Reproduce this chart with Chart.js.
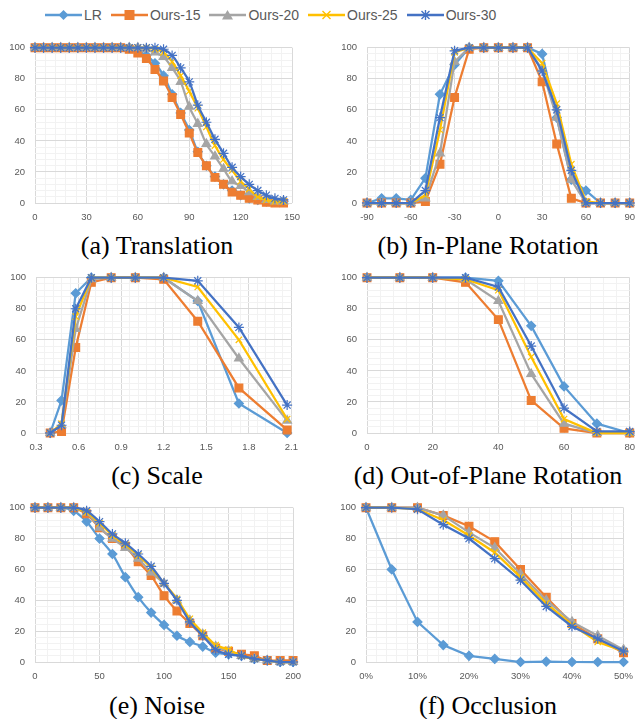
<!DOCTYPE html>
<html>
<head>
<meta charset="utf-8">
<script src="https://cdn.jsdelivr.net/npm/chart.js@4.4.1/dist/chart.umd.min.js"></script>
<style>
  html, body { margin: 0; padding: 0; background: #fff; }
  body { width: 636px; height: 719px; position: relative; overflow: hidden; }
  canvas { position: absolute; }
  .cap { position: absolute; font-family: "Liberation Serif", serif; font-size: 26px; line-height: 26px; color: #000; text-align: center; white-space: nowrap; }
  #legend { position: absolute; left: 45px; top: 5px; height: 20px; display: flex; align-items: center; font-family: "Liberation Sans", sans-serif; font-size: 14px; color: #595959; }
  #legend .item { display: flex; align-items: center; margin-right: 9px; }
  #legend svg { margin-right: 2px; }
</style>
</head>
<body>
<div id="legend"></div>
<canvas id="cA"></canvas>
<canvas id="cB"></canvas>
<canvas id="cC"></canvas>
<canvas id="cD"></canvas>
<canvas id="cE"></canvas>
<canvas id="cF"></canvas>
<div class="cap" style="left:0;width:314px;top:233px">(a) Translation</div>
<div class="cap" style="left:318px;width:340px;top:233px">(b) In-Plane Rotation</div>
<div class="cap" style="left:0;width:314px;top:463px">(c) Scale</div>
<div class="cap" style="left:318px;width:340px;top:463px">(d) Out-of-Plane Rotation</div>
<div class="cap" style="left:0;width:314px;top:693px">(e) Noise</div>
<div class="cap" style="left:318px;width:340px;top:693px">(f) Occlusion</div>
<script>
// series
const seriesNames = ['LR', 'Ours-15', 'Ours-20', 'Ours-25', 'Ours-30'];

// (a) Translation
const transX   = [0, 5, 10, 15, 20, 25, 30, 35, 40, 45, 50, 55, 60, 65, 70, 75, 80, 85, 90, 95, 100, 105, 110, 115, 120, 125, 130, 135, 140, 145];
const transLR  = [100, 100, 100, 100, 100, 100, 100, 100, 100, 100, 100, 100, 98, 95, 90, 82, 70, 58, 47, 33, 24, 17, 12, 8, 5, 3, 2, 1, 1, 1];
const transO15 = [100, 100, 100, 100, 100, 100, 100, 100, 100, 100, 100, 99, 96.5, 93, 86, 78.5, 68, 57, 45, 32.5, 24, 16.5, 12, 7, 5, 3, 2, 0.5, 0, 0];
const transO20 = [100, 100, 100, 100, 100, 100, 100, 100, 100, 100, 100, 100, 100, 99, 97, 94, 87, 78, 62, 51, 38, 30, 22, 14, 11, 7, 4, 2, 1, 1];
const transO25 = [100, 100, 100, 100, 100, 100, 100, 100, 100, 100, 100, 100, 100, 100, 99, 97, 91, 82, 72, 61, 49, 37, 28, 21, 14, 9, 4, 2, 1, 1];
const transO30 = [100, 100, 100, 100, 100, 100, 100, 100, 100, 100, 100, 100, 100, 100, 100, 99, 95, 87, 78, 63, 52, 41, 32, 23, 17, 12, 8, 5, 3, 2];

// (b) In-Plane Rotation
const rotX   = [-90, -80, -70, -60, -50, -40, -30, -20, -10, 0, 10, 20, 30, 40, 50, 60, 70, 80, 90];
const rotLR  = [0, 3, 3, 2, 16, 70, 89, 100, 100, 100, 100, 100, 96, 55, 15, 8, 0, 0, 0];
const rotO15 = [0, 0, 0, 0, 1, 25, 68, 99, 100, 100, 100, 100, 78, 38, 3, 0, 0, 0, 0];
const rotO20 = [0, 0, 0, 0, 3, 32, 91, 100, 100, 100, 100, 100, 86, 55, 15, 0, 0, 0, 0];
const rotO25 = [0, 0, 0, 0, 5, 47, 97, 100, 100, 100, 100, 100, 90, 64, 25, 1, 0, 0, 0];
const rotO30 = [0, 0, 0, 0, 8, 55, 98, 100, 100, 100, 100, 100, 85, 60, 21, 0, 0, 0, 0];

// (c) Scale
const scaleX   = [0.40, 0.48, 0.58, 0.69, 0.83, 1.0, 1.2, 1.44, 1.73, 2.07];
const scaleLR  = [0, 21, 90, 100, 100, 100, 100, 85, 19, 0];
const scaleO15 = [0, 1, 55, 97, 100, 100, 99, 72, 29, 2];
const scaleO20 = [0, 5, 67, 99, 100, 100, 100, 85, 48, 8];
const scaleO25 = [0, 6, 75, 100, 100, 100, 100, 94, 60, 9];
const scaleO30 = [0, 5, 80, 100, 100, 100, 100, 98, 68, 18];

// (d) Out-of-Plane Rotation
const outX   = [0, 10, 20, 30, 40, 50, 60, 70, 80];
const outLR  = [100, 100, 100, 100, 98, 69, 30, 6, 0];
const outO15 = [100, 100, 100, 97, 73, 21, 3, 0, 0];
const outO20 = [100, 100, 100, 99, 85, 38, 6, 0, 0];
const outO25 = [100, 100, 100, 99, 92, 49, 9, 0, 0];
const outO30 = [100, 100, 100, 100, 94, 56, 16, 1, 1];

// (e) Noise
const noiseX   = [0, 10, 20, 30, 40, 50, 60, 70, 80, 90, 100, 110, 120, 130, 140, 150, 160, 170, 180, 190, 200];
const noiseLR  = [100, 100, 100, 98, 91, 80, 70, 55, 42, 32, 24, 17, 13, 10, 6, 5, 4, 2, 1, 0, 0];
const noiseO15 = [100, 100, 100, 100, 96, 87, 80, 75, 65, 56, 43, 33, 25, 17, 9, 7, 5, 4, 1, 1, 1];
const noiseO20 = [100, 100, 100, 100, 97, 87, 80, 74, 67, 58, 51, 40, 27, 18, 10, 7, 4, 2, 1, 0, 0];
const noiseO25 = [100, 100, 100, 100, 97, 90, 82, 76, 69, 61, 51, 41, 28, 19, 11, 8, 4, 2, 1, 0, 0];
const noiseO30 = [100, 100, 100, 100, 98, 91, 83, 77, 70, 62, 51, 40, 26, 17, 8, 5, 4, 2, 1, 0, 0];

// (f) Occlusion (percent)
const occX   = [0, 5, 10, 15, 20, 25, 30, 35, 40, 45, 50];
const occLR  = [100, 60, 26, 11, 4, 2, 0, 0.3, 0, 0, 0];
const occO15 = [100, 100, 100, 95, 88, 78, 60, 42, 25, 15, 6];
const occO20 = [100, 100, 100, 95, 84, 74, 57, 40, 26, 17, 8];
const occO25 = [100, 100, 99, 92, 82, 71, 55, 38, 24, 13, 7];
const occO30 = [100, 100, 99, 89, 80, 67, 53, 36, 23, 15, 7];

// look
const colors = ['#5B9BD5', '#ED7D31', '#A5A5A5', '#FFC000', '#4472C4'];
const markers = ['rectRot', 'rect', 'triangle', 'crossRot', 'star'];
const markerSize = [4.5, 5.5, 5, 4.5, 5];
const YW = 35, XH = 22, PT = 8, PR = 14;

Chart.defaults.font.family = '"Liberation Sans", Arial, sans-serif';
Chart.defaults.font.size = 9.5;
Chart.defaults.color = '#595959';

function isMajor(v, step) {
  return Math.abs(Math.round(v / step) * step - v) < 1e-6;
}

function panel(id, box, xs, ys, xMin, xMax, xStep, tension, fmt) {
  const cv = document.getElementById(id);
  const w = box.r - box.l + YW + PR, h = box.b - box.t + PT + XH;
  cv.style.left = (box.l - YW) + 'px';
  cv.style.top = (box.t - PT) + 'px';
  cv.width = w; cv.height = h;
  cv.style.width = w + 'px'; cv.style.height = h + 'px';
  const datasets = ys.map((arr, i) => ({
    label: seriesNames[i],
    data: arr.map((v, k) => ({ x: xs[k], y: v })),
    borderColor: colors[i],
    backgroundColor: colors[i],
    borderWidth: 2.25,
    pointStyle: markers[i],
    pointRadius: markerSize[i],
    pointBorderWidth: 1.2,
    pointBorderColor: colors[i],
    pointBackgroundColor: colors[i],
    tension: tension,
    clip: false,
    order: 4 - i
  }));
  new Chart(cv, {
    type: 'line',
    data: { datasets },
    options: {
      responsive: false,
      animation: false,
      layout: { padding: { top: PT, right: PR, left: 0, bottom: 0 } },
      plugins: { legend: { display: false }, tooltip: { enabled: false } },
      scales: {
        x: {
          type: 'linear', min: xMin, max: xMax,
          afterFit: s => { s.height = XH; },
          border: { display: false },
          grid: {
            drawTicks: false,
            color: c => isMajor(c.tick.value, xStep) ? '#D9D9D9' : '#F2F2F2',
            lineWidth: 1
          },
          ticks: {
            stepSize: xStep / 5, autoSkip: false, maxRotation: 0, padding: 9,
            callback: v => isMajor(v, xStep) ? fmt(Math.round(v / xStep) * xStep) : ''
          }
        },
        y: {
          min: 0, max: 100,
          afterFit: s => { s.width = YW; },
          border: { display: false },
          grid: {
            drawTicks: false,
            color: c => c.tick.value % 20 === 0 ? '#D9D9D9' : '#F2F2F2',
            lineWidth: 1
          },
          ticks: {
            stepSize: 4, autoSkip: false, padding: 10,
            callback: v => v % 20 === 0 ? String(v) : ''
          }
        }
      }
    }
  });
}

const plain = v => String(v);
panel('cA', { l: 35, r: 295, t: 39.5, b: 202.5 }, transX, [transLR, transO15, transO20, transO25, transO30], 0, 150, 30, 0.4, plain);
panel('cB', { l: 367, r: 630, t: 39.5, b: 202.5 }, rotX, [rotLR, rotO15, rotO20, rotO25, rotO30], -90, 90, 30, 0, plain);
panel('cC', { l: 36, r: 293, t: 269.5, b: 432.5 }, scaleX, [scaleLR, scaleO15, scaleO20, scaleO25, scaleO30], 0.3, 2.1, 0.3, 0, v => v.toFixed(1));
panel('cD', { l: 367, r: 630, t: 269.5, b: 432.5 }, outX, [outLR, outO15, outO20, outO25, outO30], 0, 80, 20, 0, plain);
panel('cE', { l: 35, r: 296, t: 499.5, b: 661.5 }, noiseX, [noiseLR, noiseO15, noiseO20, noiseO25, noiseO30], 0, 200, 50, 0.2, plain);
panel('cF', { l: 366, r: 628, t: 499.5, b: 661.5 }, occX, [occLR, occO15, occO20, occO25, occO30], 0, 50, 10, 0, v => v + '%');

// legend
const legend = document.getElementById('legend');
function markerSvg(i) {
  const c = colors[i], cx = 18.5, cy = 8;
  let m = '';
  if (i === 0) m = `<polygon points="${cx},${cy - 5} ${cx + 5},${cy} ${cx},${cy + 5} ${cx - 5},${cy}" fill="${c}"/>`;
  if (i === 1) m = `<rect x="${cx - 5}" y="${cy - 5}" width="10" height="10" fill="${c}"/>`;
  if (i === 2) m = `<polygon points="${cx},${cy - 5} ${cx + 5.5},${cy + 4.5} ${cx - 5.5},${cy + 4.5}" fill="${c}"/>`;
  if (i === 3) m = `<path d="M${cx - 4} ${cy - 4}L${cx + 4} ${cy + 4}M${cx + 4} ${cy - 4}L${cx - 4} ${cy + 4}" stroke="${c}" stroke-width="1.4"/>`;
  if (i === 4) m = `<path d="M${cx - 4} ${cy - 4}L${cx + 4} ${cy + 4}M${cx + 4} ${cy - 4}L${cx - 4} ${cy + 4}M${cx} ${cy - 5}L${cx} ${cy + 5}" stroke="${c}" stroke-width="1.4"/>`;
  return `<svg width="37" height="16"><line x1="0" y1="${cy}" x2="37" y2="${cy}" stroke="${c}" stroke-width="2.5"/>${m}</svg>`;
}
seriesNames.forEach((name, i) => {
  const d = document.createElement('div');
  d.className = 'item';
  d.innerHTML = markerSvg(i) + '<span>' + name + '</span>';
  legend.appendChild(d);
});
</script>
</body>
</html>
